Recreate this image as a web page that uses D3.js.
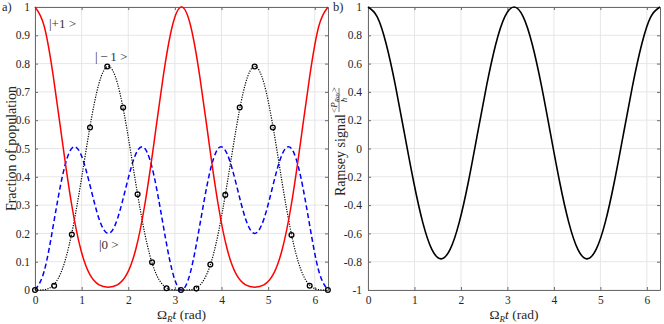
<!DOCTYPE html>
<html>
<head>
<meta charset="utf-8">
<script src="https://cdn.jsdelivr.net/npm/d3@7"></script>
<style>
  body { margin: 0; background: #fff; }
</style>
</head>
<body>
<div id="chart"></div>
<script>
// phase Omega_R t (rad), sampled every pi/16
var phase = [0, 0.196, 0.393, 0.589, 0.785, 0.982, 1.178, 1.374, 1.571, 1.767, 1.963, 2.160, 2.356,
  2.553, 2.749, 2.945, 3.142, 3.338, 3.534, 3.731, 3.927, 4.123, 4.320, 4.516, 4.712, 4.909,
  5.105, 5.301, 5.498, 5.694, 5.890, 6.087, 6.283];

// population of |+1>
var popPlus = [1, 0.933, 0.754, 0.522, 0.303, 0.143, 0.054, 0.018, 0.010, 0.018, 0.054, 0.143, 0.303,
  0.522, 0.754, 0.933, 1, 0.933, 0.754, 0.522, 0.303, 0.143, 0.054, 0.018, 0.010, 0.018,
  0.054, 0.143, 0.303, 0.522, 0.754, 0.933, 1];

// population of |0>
var popZero = [0, 0.066, 0.229, 0.403, 0.500, 0.480, 0.371, 0.251, 0.200, 0.251, 0.371, 0.480, 0.500,
  0.403, 0.229, 0.066, 0, 0.066, 0.229, 0.403, 0.500, 0.480, 0.371, 0.251, 0.200, 0.251,
  0.371, 0.480, 0.500, 0.403, 0.229, 0.066, 0];

// population of |-1>
var popMinus = [0, 0.001, 0.017, 0.075, 0.198, 0.378, 0.576, 0.731, 0.790, 0.731, 0.576, 0.378, 0.198,
  0.075, 0.017, 0.001, 0, 0.001, 0.017, 0.075, 0.198, 0.378, 0.576, 0.731, 0.790, 0.731,
  0.576, 0.378, 0.198, 0.075, 0.017, 0.001, 0];

// markers on the |-1> curve
var markT = [0, 0.41, 0.79, 1.18, 1.55, 1.89, 2.20, 2.51, 2.82, 3.13, 3.46, 3.76, 4.08, 4.39, 4.71, 5.10, 5.50, 5.89, 6.28];
var markV = [0, 0.015, 0.196, 0.574, 0.79, 0.645, 0.338, 0.098, 0.006, 0, 0.005, 0.09, 0.336, 0.645, 0.79, 0.574, 0.194, 0.015, 0];

// Ramsey signal
var ramsey = [1, 0.932, 0.737, 0.446, 0.105, -0.235, -0.522, -0.713, -0.780, -0.713, -0.522, -0.235, 0.105,
  0.446, 0.737, 0.932, 1, 0.932, 0.737, 0.446, 0.105, -0.235, -0.522, -0.713, -0.780, -0.713,
  -0.522, -0.235, 0.105, 0.446, 0.737, 0.932, 1];

var xTicks = [0, 1, 2, 3, 4, 5, 6];
var yTicksA = [0, 0.1, 0.2, 0.3, 0.4, 0.5, 0.6, 0.7, 0.8, 0.9, 1];
var yTicksB = [-1, -0.8, -0.6, -0.4, -0.2, 0, 0.2, 0.4, 0.6, 0.8, 1];

var FONT = "'Liberation Serif', 'Times New Roman', serif";

var svg = d3.select("#chart").append("svg")
  .attr("width", 664)
  .attr("height", 324)
  .attr("font-family", FONT);

var tickColor = "#262626";
var axisColor = "#6b6b6b";

// grid, box and axes for one panel
function drawFrame(x, y, yTicks, yPad) {
  var g = svg.append("g");
  var x0 = x.range()[0], x1 = x.range()[1];
  var yb = y.range()[0], yt = y.range()[1];

  g.selectAll(".gx").data(xTicks).join("line")
    .attr("x1", d => x(d)).attr("x2", d => x(d))
    .attr("y1", yb).attr("y2", yt)
    .attr("stroke", "#e6e6e6");
  g.selectAll(".gy").data(yTicks).join("line")
    .attr("x1", x0).attr("x2", x1)
    .attr("y1", d => y(d)).attr("y2", d => y(d))
    .attr("stroke", "#e6e6e6");

  var bottom = g.append("g")
    .attr("transform", `translate(0,${yb})`)
    .call(d3.axisBottom(x).tickValues(xTicks).tickSizeInner(-3).tickSizeOuter(0).tickPadding(6).tickFormat(d3.format("d")));
  var left = g.append("g")
    .attr("transform", `translate(${x0},0)`)
    .call(d3.axisLeft(y).tickValues(yTicks).tickSizeInner(-3).tickSizeOuter(0).tickPadding(yPad)
      .tickFormat(d => String(d)));
  var top = g.append("g")
    .attr("transform", `translate(0,${yt})`)
    .call(d3.axisTop(x).tickValues(xTicks).tickSizeInner(-3).tickSizeOuter(0).tickFormat(""));
  var right = g.append("g")
    .attr("transform", `translate(${x1},0)`)
    .call(d3.axisRight(y).tickValues(yTicks).tickSizeInner(-3).tickSizeOuter(0).tickFormat(""));

  [bottom, left, top, right].forEach(function(a) {
    a.attr("font-family", FONT).attr("font-size", 11.5);
    a.select(".domain").attr("stroke", axisColor);
    a.selectAll(".tick line").attr("stroke", axisColor);
    a.selectAll("text").attr("fill", tickColor);
  });
  return g;
}

function xLabel(cx) {
  var t = svg.append("text")
    .attr("x", cx).attr("y", 319)
    .attr("text-anchor", "middle")
    .attr("fill", tickColor)
    .attr("font-size", 13.5);
  t.append("tspan").text("\u03A9");
  t.append("tspan").attr("dy", 3).attr("font-size", 9).attr("font-style", "italic").text("R");
  t.append("tspan").attr("dy", -3).attr("font-style", "italic").text("t");
  t.append("tspan").text(" (rad)");
}

// ---------- panel a ----------
var xA = d3.scaleLinear().domain([0, 2 * Math.PI]).range([35, 328]);
var yA = d3.scaleLinear().domain([0, 1]).range([290, 7]);
drawFrame(xA, yA, yTicksA, 5);

var lineA = d3.line()
  .x((d, i) => xA(phase[i]))
  .y(d => yA(d))
  .curve(d3.curveNatural);

svg.append("path").datum(popZero)
  .attr("d", lineA).attr("fill", "none")
  .attr("stroke", "#0000ff").attr("stroke-width", 1.5)
  .attr("stroke-dasharray", "5,3");

svg.append("path").datum(popMinus)
  .attr("d", lineA).attr("fill", "none")
  .attr("stroke", "#000").attr("stroke-width", 1.2)
  .attr("stroke-dasharray", "1.2,1.3");

svg.append("path").datum(popPlus)
  .attr("d", lineA).attr("fill", "none")
  .attr("stroke", "#ff0000").attr("stroke-width", 1.5);

svg.append("g").selectAll("circle")
  .data(markV)
  .join("circle")
  .attr("cx", (d, i) => xA(markT[i]))
  .attr("cy", d => yA(d))
  .attr("r", 2.4)
  .attr("fill", "none")
  .attr("stroke", "#000")
  .attr("stroke-width", 1.3);

// state labels
var states = [
  { text: "|+1 >", x: 49, y: 28 },
  { text: "|\u2009\u2212\u20091 >", x: 95, y: 61 },
  { text: "|0 >", x: 99, y: 249 }
];
svg.selectAll(".state").data(states).join("text")
  .attr("x", d => d.x).attr("y", d => d.y)
  .attr("fill", "#333")
  .attr("font-size", 13)
  .text(d => d.text);

svg.append("text")
  .attr("transform", "translate(16,148.5) rotate(-90)")
  .attr("text-anchor", "middle")
  .attr("fill", tickColor)
  .attr("font-size", 14)
  .text("Fraction of population");

xLabel(181.5);

svg.append("text").attr("x", 2).attr("y", 11)
  .attr("fill", tickColor).attr("font-size", 12.5).text("a)");

// ---------- panel b ----------
var xB = d3.scaleLinear().domain([0, 2 * Math.PI]).range([368, 660]);
var yB = d3.scaleLinear().domain([-1, 1]).range([290, 7]);
drawFrame(xB, yB, yTicksB, 6);

var lineB = d3.line()
  .x((d, i) => xB(phase[i]))
  .y(d => yB(d))
  .curve(d3.curveNatural);

svg.append("path").datum(ramsey)
  .attr("d", lineB).attr("fill", "none")
  .attr("stroke", "#000").attr("stroke-width", 1.6);

// y label: "Ramsey signal <P_Ray>/hbar"
var yl = svg.append("g").attr("transform", "translate(339,0) rotate(-90)");
yl.append("text")
  .attr("x", -114).attr("y", 5.5)
  .attr("text-anchor", "end")
  .attr("fill", tickColor)
  .attr("font-size", 14)
  .text("Ramsey signal");
var num = yl.append("text")
  .attr("x", -100).attr("y", -2)
  .attr("text-anchor", "middle")
  .attr("fill", tickColor)
  .attr("font-size", 9);
num.append("tspan").text("<");
num.append("tspan").attr("font-style", "italic").text("P");
num.append("tspan").attr("dy", 1.5).attr("font-size", 6.5).attr("font-style", "italic").text("Ray");
num.append("tspan").attr("dy", -1.5).text(">");
yl.append("line")
  .attr("x1", -112).attr("x2", -88)
  .attr("y1", 0).attr("y2", 0)
  .attr("stroke", tickColor).attr("stroke-width", 0.6);
yl.append("text")
  .attr("x", -100).attr("y", 8)
  .attr("text-anchor", "middle")
  .attr("fill", tickColor)
  .attr("font-size", 9)
  .attr("font-style", "italic")
  .text("\u0127");

xLabel(514);

svg.append("text").attr("x", 333).attr("y", 11)
  .attr("fill", tickColor).attr("font-size", 12.5).text("b)");
</script>
</body>
</html>
